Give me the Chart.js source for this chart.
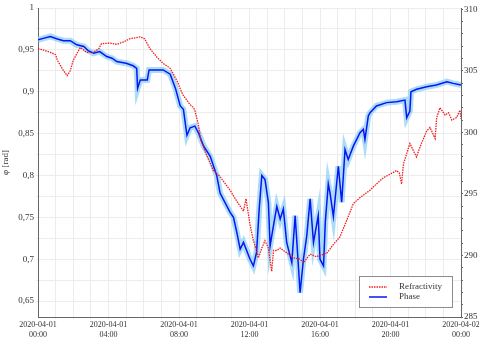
<!DOCTYPE html>
<html>
<head>
<meta charset="utf-8">
<script src="https://cdn.jsdelivr.net/npm/chart.js@4/dist/chart.umd.min.js"></script>
<style>
  body { margin: 0; background: #fff; }
  #wrap { width: 479px; height: 341px; }
</style>
</head>
<body>
<div id="wrap"><canvas id="chart" width="479" height="341"></canvas></div>
<script>
// hours since 2020-04-01 00:00 and phase [rad] (left axis)
const phaseHours = [0, 0.35, 0.7, 1.1, 1.45, 1.83, 2.2, 2.6, 2.85, 3.15, 3.5, 3.9, 4.2, 4.47, 5.0, 5.4, 5.6, 5.65, 5.8, 6.2,
    6.3, 6.75, 7.1, 7.5, 7.8, 8.07, 8.25, 8.45, 8.63, 8.9, 9.1, 9.4, 9.77, 10.14, 10.33, 10.9, 11.09, 11.28, 11.47, 11.66,
    12.03, 12.22, 12.4, 12.55, 12.7, 12.88, 13.07, 13.17, 13.36, 13.55, 13.74, 13.92, 14.11, 14.4, 14.59, 14.75, 14.87, 15.06, 15.25, 15.44,
    15.63, 15.9, 16.0, 16.2, 16.3, 16.47, 16.57, 16.76, 17.04, 17.23, 17.42, 17.6, 17.89, 18.27, 18.46, 18.55, 18.74, 18.84, 19.2, 19.78,
    20.35, 20.82, 20.92, 21.1, 21.16, 21.48, 22.05, 22.6, 23.2, 23.56, 24];
const phaseValues = [0.962, 0.964, 0.966, 0.963, 0.961, 0.961, 0.956, 0.954, 0.949, 0.946, 0.948, 0.942, 0.940, 0.936, 0.934, 0.931, 0.928, 0.904, 0.914, 0.914,
    0.926, 0.926, 0.926, 0.921, 0.904, 0.883, 0.879, 0.848, 0.857, 0.859, 0.851, 0.835, 0.823, 0.800, 0.779, 0.756, 0.750, 0.732, 0.712, 0.720,
    0.700, 0.692, 0.708, 0.760, 0.800, 0.795, 0.768, 0.716, 0.740, 0.763, 0.748, 0.760, 0.720, 0.696, 0.752, 0.700, 0.660, 0.700, 0.728, 0.772,
    0.720, 0.752, 0.700, 0.692, 0.744, 0.790, 0.779, 0.751, 0.811, 0.768, 0.831, 0.819, 0.835, 0.851, 0.855, 0.843, 0.871, 0.875, 0.883, 0.887,
    0.888, 0.890, 0.869, 0.877, 0.900, 0.903, 0.906, 0.908, 0.912, 0.910, 0.908];

// refractivity (right axis)
const refrHours = [0, 0.35, 0.7, 1.0, 1.1, 1.45, 1.65, 1.83, 2.0, 2.4, 2.75, 3.15, 3.45, 3.6, 4.1, 4.47, 4.85, 5.2, 5.8, 6.05,
    6.35, 6.75, 7.1, 7.5, 7.88, 8.2, 8.6, 8.82, 8.9, 9.1, 9.25, 9.58, 9.95, 10.33, 10.9, 11.28, 11.66, 11.8, 12.03, 12.22,
    12.4, 12.5, 12.7, 12.88, 13.07, 13.17, 13.26, 13.36, 13.55, 13.74, 14.11, 14.5, 14.87, 15.06, 15.44, 15.8, 16.0, 16.4, 16.76, 17.13,
    17.5, 17.89, 18.27, 18.84, 19.2, 19.59, 19.97, 20.35, 20.5, 20.63, 20.73, 21.1, 21.3, 21.48, 21.67, 22.05, 22.24, 22.53, 22.62, 22.81,
    23.1, 23.29, 23.48, 23.75, 23.94, 24];
const refrValues = [306.8, 306.66, 306.5, 306.3, 305.85, 305.0, 304.6, 305.0, 305.85, 306.9, 306.5, 306.5, 306.8, 307.2, 307.25, 307.15, 307.34, 307.6, 307.75, 307.6,
    306.8, 306.1, 305.6, 305.2, 304.2, 303.1, 302.3, 302.0, 301.8, 300.6, 299.3, 298.1, 296.9, 296.4, 295.3, 294.4, 293.6, 294.6, 292.5, 291.2,
    290.4, 289.8, 290.6, 291.2, 290.6, 289.6, 288.7, 290.4, 290.4, 290.6, 290.2, 289.8, 289.7, 289.4, 290.1, 289.9, 290.0, 290.2, 290.9, 291.5,
    292.8, 294.2, 294.7, 295.3, 295.8, 296.3, 296.6, 296.9, 296.7, 295.8, 297.4, 299.1, 298.5, 298.0, 298.8, 300.1, 300.4, 299.5, 301.2, 302.0,
    301.4, 301.6, 301.0, 301.2, 301.8, 301.1];

const tickDates = ['2020-04-01', '2020-04-01', '2020-04-01', '2020-04-01', '2020-04-01', '2020-04-01', '2020-04-02'];
const tickTimes = ['00:00', '04:00', '08:00', '12:00', '16:00', '20:00', '00:00'];
const leftTicks = [0.65, 0.675, 0.7, 0.725, 0.75, 0.775, 0.8, 0.825, 0.85, 0.875, 0.9, 0.925, 0.95, 0.975, 1];
const rightTicks = [285, 286, 287, 288, 289, 290, 291, 292, 293, 294, 295, 296, 297, 298, 299, 300, 301, 302, 303, 304, 305, 306, 307, 308, 309, 310];

const phasePoints = phaseHours.map((h, i) => ({x: h, y: phaseValues[i]}));
const refrPoints = refrHours.map((h, i) => ({x: h, y: refrValues[i]}));

const serif = "'Liberation Serif', 'DejaVu Serif', serif";

// legend box drawn inside the plot, bottom right
const legendBox = {
    id: 'legendBox',
    afterDraw(chart) {
        const {ctx, chartArea} = chart;
        const x = chartArea.right - 102, y = chartArea.bottom - 41, w = 93, h = 31;
        ctx.save();
        ctx.fillStyle = '#fff';
        ctx.fillRect(x, y, w, h);
        ctx.strokeStyle = '#8c8c8c';
        ctx.lineWidth = 1;
        ctx.strokeRect(x + 0.5, y + 0.5, w, h);
        const items = [chart.data.datasets[2], chart.data.datasets[1]];
        items.forEach((ds, i) => {
            const ly = y + 11 + i * 10;
            ctx.strokeStyle = ds.borderColor;
            ctx.lineWidth = 1.5;
            ctx.setLineDash(ds.borderDash || []);
            ctx.beginPath();
            ctx.moveTo(x + 10, ly);
            ctx.lineTo(x + 28, ly);
            ctx.stroke();
            ctx.setLineDash([]);
            ctx.fillStyle = '#333';
            ctx.font = '9px ' + serif;
            ctx.textBaseline = 'middle';
            ctx.fillText(ds.label, x + 40, ly);
        });
        ctx.restore();
    }
};

new Chart(document.getElementById('chart'), {
    type: 'line',
    data: {
        datasets: [
            {
                label: 'Phase band',
                data: phasePoints,
                yAxisID: 'y',
                borderColor: 'rgba(150, 212, 248, 0.8)',
                borderWidth: 6,
                pointRadius: 0,
                tension: 0,
                order: 3
            },
            {
                label: 'Phase',
                data: phasePoints,
                yAxisID: 'y',
                borderColor: '#0a14f5',
                borderWidth: 1.5,
                pointRadius: 0,
                tension: 0,
                order: 2
            },
            {
                label: 'Refractivity',
                data: refrPoints,
                yAxisID: 'y2',
                borderColor: '#f01e1e',
                borderWidth: 1.3,
                borderDash: [1.5, 1],
                pointRadius: 0,
                tension: 0,
                order: 1
            }
        ]
    },
    options: {
        responsive: false,
        animation: false,
        layout: {padding: {top: 8, left: 0, right: 0, bottom: 0}},
        plugins: {
            legend: {display: false},
            tooltip: {enabled: false}
        },
        scales: {
            x: {
                type: 'linear',
                min: 0,
                max: 24,
                afterBuildTicks: (scale) => {
                    scale.ticks = [];
                    for (let h = 0; h <= 24; h++) scale.ticks.push({value: h});
                },
                afterFit: (scale) => {
                    scale.height = 24;
                    scale.paddingLeft = 0;
                    scale.paddingRight = 0;
                },
                grid: {color: '#ececec', tickLength: 2},
                border: {color: '#666'},
                ticks: {
                    autoSkip: false,
                    maxRotation: 0,
                    padding: 1,
                    color: '#333',
                    font: {family: serif, size: 8, lineHeight: 1.25},
                    callback: (v) => v % 4 === 0 ? [tickDates[v / 4], tickTimes[v / 4]] : ''
                }
            },
            y: {
                position: 'left',
                min: 0.631,
                max: 1,
                afterBuildTicks: (scale) => {
                    scale.ticks = leftTicks.map(v => ({value: v}));
                },
                afterFit: (scale) => { scale.width = 38; },
                grid: {color: '#ececec', tickLength: 2},
                border: {color: '#666'},
                title: {
                    display: true,
                    text: 'φ [rad]',
                    color: '#333',
                    font: {family: serif, size: 9},
                    padding: 0
                },
                ticks: {
                    autoSkip: false,
                    color: '#333',
                    padding: 2,
                    font: {family: serif, size: 9},
                    callback: (v) => {
                        const k = Math.round(v * 1000);
                        return k % 50 === 0 ? (k === 1000 ? '1' : String(v).replace('.', ',')) : '';
                    }
                }
            },
            y2: {
                position: 'right',
                min: 285,
                max: 310.1,
                afterBuildTicks: (scale) => {
                    scale.ticks = rightTicks.map(v => ({value: v}));
                },
                afterFit: (scale) => { scale.width = 18; },
                grid: {drawOnChartArea: false, tickLength: 2, color: '#666'},
                border: {color: '#666'},
                ticks: {
                    autoSkip: false,
                    color: '#333',
                    padding: 1,
                    font: {family: serif, size: 9},
                    callback: (v) => v % 5 === 0 ? String(v) : ''
                }
            }
        }
    },
    plugins: [legendBox]
});
</script>
</body>
</html>
